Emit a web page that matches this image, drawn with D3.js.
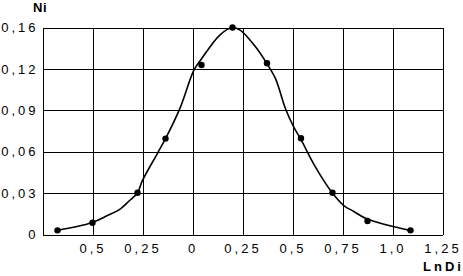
<!DOCTYPE html>
<html>
<head>
<meta charset="utf-8">
<script src="https://cdn.jsdelivr.net/npm/d3@7"></script>
<style>
  html, body { margin: 0; padding: 0; background: #fff; }
  svg { display: block; }
  text { font-family: "Liberation Sans", Arial, sans-serif; fill: #000; }
</style>
</head>
<body>
<svg id="chart" width="463" height="276"></svg>
<script>
// Measured points
const pointX = [-0.675, -0.5, -0.275, -0.135, 0.045, 0.2, 0.3725, 0.5425, 0.70, 0.875, 1.09];
const pointY = [0.003, 0.0085, 0.0302, 0.0695, 0.1238, 0.16, 0.1254, 0.0697, 0.0302, 0.0098, 0.003];

// Smooth fitted curve
const curveX = [-0.68, -0.505, -0.425, -0.36, -0.3185, -0.2765, -0.25, -0.1765, -0.135, -0.0635, 0.0065, 0.04, 0.1365, 0.1985, 0.24, 0.315, 0.37, 0.415, 0.465, 0.5065, 0.54, 0.615, 0.6985, 0.7565, 0.8065, 0.8735, 1.09];
const curveY = [0.0029, 0.0085, 0.0138, 0.0186, 0.0241, 0.0299, 0.0392, 0.0585, 0.0694, 0.0912, 0.1189, 0.1283, 0.1527, 0.16, 0.1573, 0.1413, 0.1257, 0.1129, 0.0911, 0.0778, 0.0694, 0.0488, 0.0302, 0.021, 0.0167, 0.0112, 0.0029];

// Axis ticks and labels
const xTicks = [-0.5, -0.25, 0, 0.25, 0.5, 0.75, 1.0, 1.25];
const xTickLabels = ["0,5", "0,25", "0", "0,25", "0,5", "0,75", "1,0", "1,25"];
const yTicks = [0, 0.03, 0.06, 0.09, 0.12, 0.16];
const yTickLabels = ["0", "0,03", "0,06", "0,09", "0,12", "0,16"];
const xTitle = "LnDi";
const yTitle = "Ni";

const svg = d3.select("#chart");
const plotL = 42.5, plotR = 442.5, plotT = 27.5, plotB = 234.5;

const x = d3.scaleLinear().domain([-0.75, 1.25]).range([plotL, plotR]);
const yStep = (plotB - plotT) / (yTicks.length - 1);
const y = d3.scaleLinear().domain(yTicks).range(yTicks.map((d, i) => plotB - i * yStep));

// X axis with vertical gridlines
const xAxis = d3.axisBottom(x)
  .tickValues(xTicks)
  .tickSizeInner(-(plotB - plotT))
  .tickSizeOuter(0)
  .tickPadding(9)
  .tickFormat((d, i) => xTickLabels[i]);
const gx = svg.append("g").attr("transform", `translate(0,${plotB})`).call(xAxis);

// Y axis with horizontal gridlines
const yAxis = d3.axisLeft(y)
  .tickValues(yTicks)
  .tickSizeInner(-(plotR - plotL))
  .tickSizeOuter(0)
  .tickPadding(7)
  .tickFormat((d, i) => yTickLabels[i]);
const gy = svg.append("g").attr("transform", `translate(${plotL},0)`).call(yAxis);

[gx, gy].forEach(g => {
  g.selectAll("path.domain").attr("stroke", "#000").attr("stroke-width", 1).attr("shape-rendering", "crispEdges");
  g.selectAll(".tick line").attr("stroke", "#000").attr("stroke-width", 1).attr("shape-rendering", "crispEdges");
  g.selectAll(".tick text")
    .attr("font-size", 13)
    .attr("font-family", "'Liberation Sans', Arial, sans-serif")
    .style("letter-spacing", "3px")
    .attr("fill", "#000");
});
gy.selectAll(".tick text").attr("dx", 3);

// Curve
const line = d3.line()
  .x((d, i) => x(curveX[i]))
  .y((d, i) => y(curveY[i]))
  .curve(d3.curveCatmullRom.alpha(0.5));
svg.append("path")
  .datum(curveX)
  .attr("d", line)
  .attr("fill", "none")
  .attr("stroke", "#000")
  .attr("stroke-width", 1.6);

// Markers
svg.selectAll("circle.pt")
  .data(pointX)
  .join("circle")
  .attr("class", "pt")
  .attr("cx", (d) => x(d))
  .attr("cy", (d, i) => y(pointY[i]))
  .attr("r", 3.2)
  .attr("fill", "#000");

// Titles
svg.append("text")
  .attr("x", 33).attr("y", 11.5)
  .attr("font-size", 13).attr("font-weight", "bold")
  .style("letter-spacing", "0.5px")
  .text(yTitle);
svg.append("text")
  .attr("x", 423).attr("y", 271)
  .attr("font-size", 13).attr("font-weight", "bold")
  .style("letter-spacing", "3px")
  .text(xTitle);
</script>
</body>
</html>
